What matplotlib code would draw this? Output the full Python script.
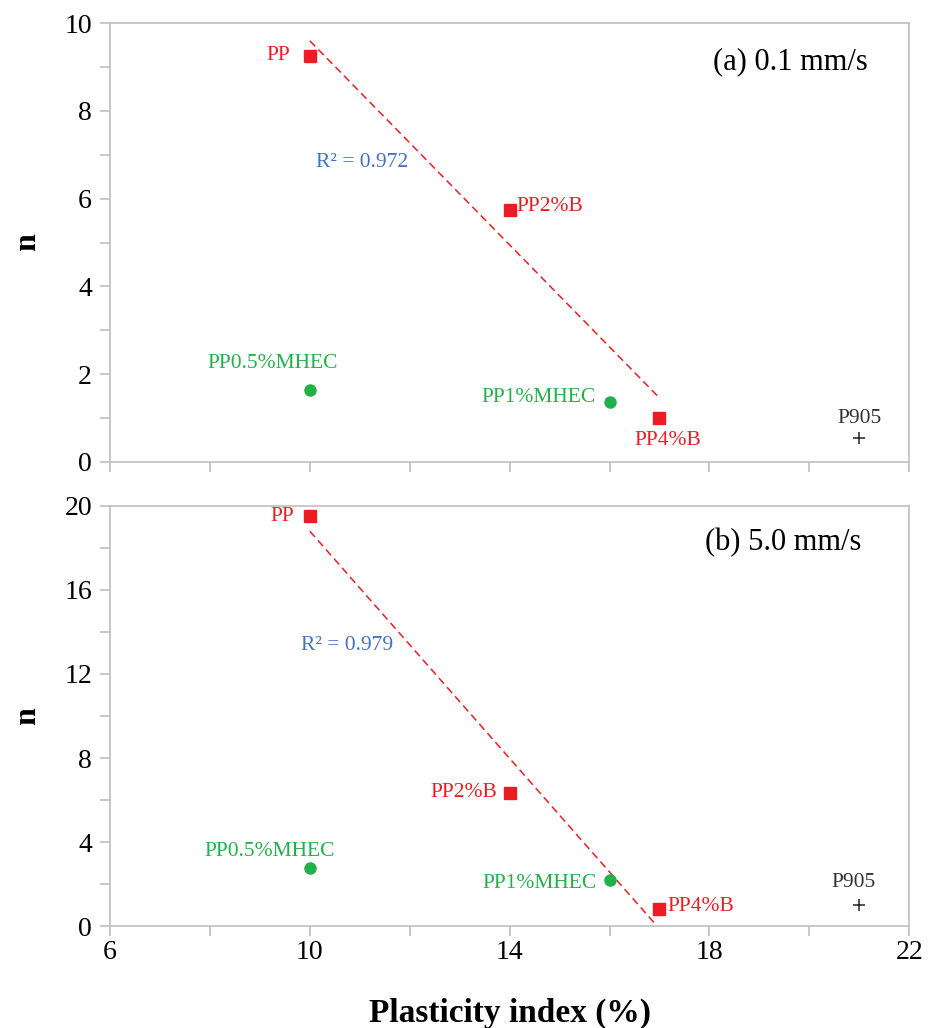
#############################
# n versus plasticity index
# two loading rates
#############################
import numpy as np
import matplotlib
matplotlib.use("Agg")
import matplotlib.pyplot as plt
from matplotlib.ticker import MultipleLocator

plt.rcParams['font.family'] = ['Liberation Serif', 'DejaVu Serif']

# Plasticity index (%) of each mix
pi_pp = [10, 14, 17]
pi_mhec = [10, 16]
pi_p905 = [21]

# Labels
labels_pp = ["PP", "PP2%B", "PP4%B"]
labels_mhec = ["PP0.5%MHEC", "PP1%MHEC"]
labels_p905 = ["P905"]
x_ticks = [6, 10, 14, 18, 22]

# (a) 0.1 mm/s
n_pp_a = [9.25, 5.75, 1.0]
n_mhec_a = [1.65, 1.37]
n_p905_a = [0.55]
r2_a = 0.972

# (b) 5.0 mm/s
n_pp_b = [19.5, 6.35, 0.8]
n_mhec_b = [2.75, 2.2]
n_p905_b = [1.0]
r2_b = 0.979

red = '#ED1C24'
green = '#22B04B'
blue = '#4472C4'
grey = '#BFBFBF'
lab_size = 15.5


#############################
# Draw one panel
#############################
def draw_panel(ax, n_pp, n_mhec, n_p905, r2, title, ymax, ystep,
               offs_pp, offs_mhec, offs_p905, r2_pos, title_pos):
  # linear trend through the PP series
  slope, icpt = np.polyfit(pi_pp, n_pp, 1)
  xs = np.array([pi_pp[0], pi_pp[-1]])
  ax.plot(xs, slope * xs + icpt, color=red, linestyle=(0, (5, 3)), linewidth=1.1)

  ax.plot(pi_pp, n_pp, 's', color=red, markersize=8.5, zorder=3)
  ax.plot(pi_mhec, n_mhec, 'o', color=green, markersize=8, zorder=3)
  ax.plot(pi_p905, n_p905, '+', color='#222222', markersize=8, markeredgewidth=1.1, zorder=3)

  for x, y, s, (dx, dy, ha) in zip(pi_pp, n_pp, labels_pp, offs_pp):
    ax.annotate(s, (x, y), xytext=(dx, dy), textcoords='offset points',
                ha=ha, va='center', color=red, fontsize=lab_size)
  for x, y, s, (dx, dy, ha) in zip(pi_mhec, n_mhec, labels_mhec, offs_mhec):
    ax.annotate(s, (x, y), xytext=(dx, dy), textcoords='offset points',
                ha=ha, va='center', color=green, fontsize=lab_size)
  for x, y, s, (dx, dy, ha) in zip(pi_p905, n_p905, labels_p905, offs_p905):
    ax.annotate(s, (x, y), xytext=(dx, dy), textcoords='offset points',
                ha=ha, va='center', color='#333333', fontsize=lab_size)

  ax.text(r2_pos[0], r2_pos[1], f"R² = {r2:.3f}", transform=ax.transAxes,
          ha='center', va='center', color=blue, fontsize=lab_size)
  ax.text(title_pos[0], title_pos[1], title, transform=ax.transAxes,
          ha='center', va='center', color='black', fontsize=22)

  ax.set_xlim(6, 22)
  ax.set_ylim(0, ymax)
  ax.set_xticks(x_ticks)
  ax.xaxis.set_minor_locator(MultipleLocator(2))
  ax.yaxis.set_major_locator(MultipleLocator(ystep))
  ax.yaxis.set_minor_locator(MultipleLocator(ystep / 2))

  for sp in ax.spines.values():
    sp.set_color(grey)
    sp.set_linewidth(1.2)
  ax.tick_params(which='both', direction='out', color=grey, width=1.2, length=7,
                 labelsize=20, pad=6)
  ax.tick_params(axis='x', pad=3)
  ax.set_ylabel('n', fontsize=23, fontweight='bold', labelpad=16)


#############################
# Main
#############################
def main():
  fig = plt.figure(figsize=(9.38, 10.28), dpi=100)
  ax_a = fig.add_axes([0.1173, 0.5506, 0.852, 0.427])
  ax_b = fig.add_axes([0.1173, 0.0992, 0.852, 0.4086])

  draw_panel(ax_a, n_pp_a, n_mhec_a, n_p905_a, r2_a, "(a) 0.1 mm/s", 10, 2,
             [(-14, 0, 'right'), (5, 2, 'left'), (6, -16, 'center')],
             [(-27, 19, 'center'), (-10, 3, 'right')],
             [(0, 14, 'center')],
             (0.315, 0.683), (0.851, 0.911))
  draw_panel(ax_b, n_pp_b, n_mhec_b, n_p905_b, r2_b, "(b) 5.0 mm/s", 20, 4,
             [(-11, 0, 'right'), (-9, 0, 'right'), (6, 2, 'left')],
             [(-29, 12, 'center'), (-9, -3, 'right')],
             [(-4, 16, 'center')],
             (0.297, 0.669), (0.842, 0.912))

  ax_a.tick_params(axis='x', labelbottom=False)
  ax_b.set_xlabel('Plasticity index (%)', fontsize=24, fontweight='bold', labelpad=24)

  fig.savefig('out.png', dpi=100)


if __name__ == "__main__":
  main()
